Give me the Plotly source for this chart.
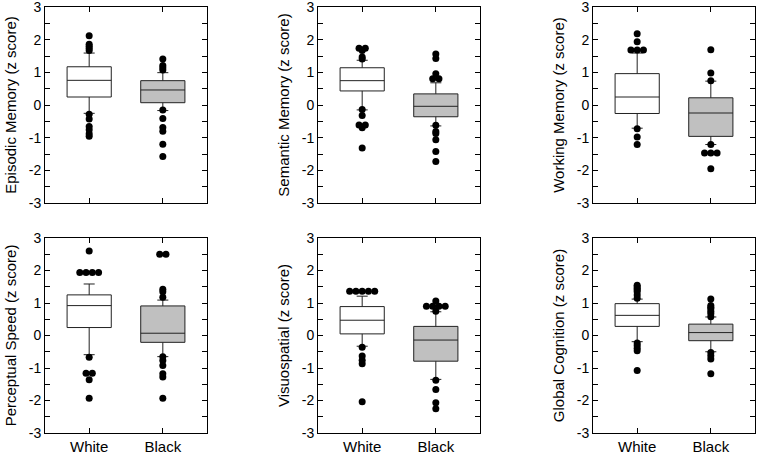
import plotly.graph_objects as go
from plotly.subplots import make_subplots

# ---------------- data ----------------
groups = ["White", "Black"]
titles = ["Episodic Memory (z score)", "Semantic Memory (z score)", "Working Memory (z score)",
          "Perceptual Speed (z score)", "Visuospatial (z score)", "Global Cognition (z score)"]
y_ticks = [-3, -2, -1, 0, 1, 2, 3]
y_ticklabels = ["-3", "-2", "-1", "0", "1", "2", "3"]

# stats per panel: [q1, median, q3, lower whisker, upper whisker] for White, Black
white_stats = [
    [0.245, 0.755, 1.17, -0.255, 1.59],
    [0.43, 0.745, 1.14, -0.15, 1.37],
    [-0.26, 0.245, 0.96, -0.71, 1.59],
    [0.245, 0.92, 1.25, -0.59, 1.585],
    [0.05, 0.47, 0.89, -0.33, 1.21],
    [0.28, 0.62, 0.98, -0.19, 1.12],
]
black_stats = [
    [0.07, 0.46, 0.745, -0.17, 0.99],
    [-0.36, -0.04, 0.34, -0.64, 0.68],
    [-0.96, -0.245, 0.22, -1.21, 0.73],
    [-0.21, 0.07, 0.91, -0.65, 1.09],
    [-0.79, -0.14, 0.28, -1.35, 0.73],
    [-0.16, 0.09, 0.35, -0.50, 0.57],
]
white_outliers = [
    [2.12, 1.86, 1.80, 1.74, 1.67, -0.28, -0.43, -0.66, -0.76, -0.88, -0.96],
    [1.74, 1.74, 1.67, 1.47, 1.41, -0.14, -0.32, -0.61, -0.61, -0.70, -1.32],
    [2.18, 1.94, 1.68, 1.68, 1.68, -0.73, -0.98, -1.21],
    [2.60, 1.94, 1.94, 1.94, 1.94, -0.67, -1.16, -1.16, -1.36, -1.93],
    [1.36, 1.36, 1.36, 1.36, 1.36, -0.36, -0.63, -0.76, -0.87, -2.04],
    [1.55, 1.50, 1.45, 1.40, 1.35, 1.25, 1.15, -0.23, -0.31, -0.39, -0.47, -1.08],
]
black_outliers = [
    [1.41, 1.21, 1.14, 1.07, -0.15, -0.41, -0.69, -0.80, -1.20, -1.58],
    [1.56, 1.42, 0.96, 0.80, 0.80, -0.62, -0.81, -0.87, -1.06, -1.42, -1.73],
    [1.69, 0.98, 0.74, -1.21, -1.47, -1.47, -1.47, -1.95],
    [2.50, 2.50, 1.42, 1.35, 1.18, -0.65, -0.77, -0.92, -1.18, -1.28, -1.93],
    [1.06, 0.90, 0.90, 0.90, 0.90, 0.75, -1.38, -1.66, -2.07, -2.25],
    [1.12, 0.92, 0.87, 0.82, 0.75, 0.68, 0.58, -0.52, -0.62, -0.72, -1.18],
]
fills = ["white", "#c0c0c0"]

# ---------------- figure ----------------
fig = make_subplots(rows=2, cols=3)

def spread(vals, center, step=0.085):
    xs = []
    counts = {}
    for v in vals:
        counts[v] = counts.get(v, 0) + 1
    seen = {}
    for v in vals:
        n = counts[v]
        i = seen.get(v, 0)
        seen[v] = i + 1
        xs.append(center + (i - (n - 1) / 2) * step)
    return xs

for p in range(6):
    r, c = p // 3 + 1, p % 3 + 1
    for g, (stats, outs) in enumerate([(white_stats[p], white_outliers[p]), (black_stats[p], black_outliers[p])]):
        q1, med, q3, lo, hi = stats
        fig.add_trace(go.Box(x=[g], q1=[q1], median=[med], q3=[q3], lowerfence=[lo], upperfence=[hi],
                             width=0.6, whiskerwidth=0.25, fillcolor=fills[g],
                             line=dict(color="#222222", width=1), boxpoints=False,
                             showlegend=False, hoverinfo="skip"), row=r, col=c)
        fig.add_trace(go.Scatter(x=spread(outs, g), y=outs, mode="markers",
                                 marker=dict(color="black", size=7),
                                 showlegend=False, hoverinfo="skip"), row=r, col=c)

xdoms = [(45 / 757, 207 / 757), (318 / 757, 480 / 757), (593 / 757, 755 / 757)]
ydoms = [(1 - 203 / 458, 1 - 7 / 458), (1 - 433 / 458, 1 - 238 / 458)]

for p in range(6):
    r, c = p // 3, p % 3
    idx = "" if p == 0 else str(p + 1)
    fig.layout["xaxis" + idx].update(
        domain=xdoms[c], range=[-0.6, 1.6], tickvals=[0, 1], ticktext=groups,
        showticklabels=(r == 1), ticks="inside", ticklen=5, tickcolor="black",
        showline=True, linecolor="black", linewidth=1, mirror="ticks", automargin=False,
        ticklabeloverflow="allow",
        showgrid=False, zeroline=False, tickfont=dict(size=15, color="black"))
    fig.layout["yaxis" + idx].update(
        domain=ydoms[r], range=[-3, 3], tickvals=y_ticks, ticktext=y_ticklabels,
        ticks="inside", ticklen=5, tickcolor="black", automargin=False,
        ticklabeloverflow="allow",
        minor=dict(dtick=0.5, tick0=0, ticks="inside", ticklen=5, tickcolor="black", showgrid=False),
        showline=True, linecolor="black", linewidth=1, mirror="ticks",
        showgrid=False, zeroline=False, tickfont=dict(size=14, color="black"),
        title=dict(text=titles[p], font=dict(size=15, color="black"), standoff=8))

fig.update_layout(width=757, height=458, margin=dict(l=0, r=0, t=0, b=0, autoexpand=False),
                  paper_bgcolor="white", plot_bgcolor="white",
                  font=dict(family="Liberation Sans, Arial, sans-serif", color="black"))

fig.write_html("out.html", config={"displayModeBar": False},
               post_script="document.body.style.margin='0';")
